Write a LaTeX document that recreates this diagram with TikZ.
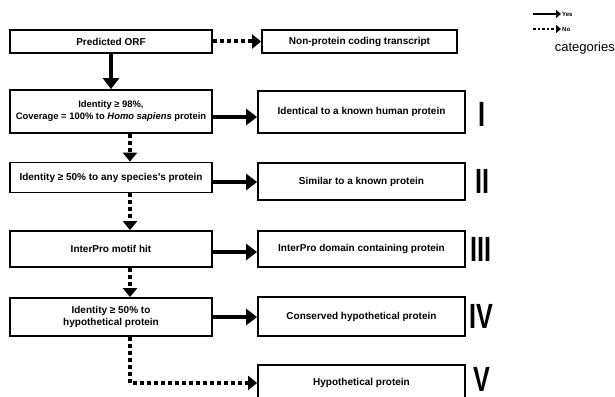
\documentclass[tikz,border=0pt]{standalone}
\usepackage{fontspec}
\setmainfont{Liberation Sans}
\usetikzlibrary{arrows.meta}
\begin{document}
\begin{tikzpicture}[x=1pt,y=-1pt,
  box/.style={draw, line width=1.8pt, font=\bfseries\fontsize{10}{12.5}\selectfont, align=center, inner sep=0pt},
  lbox/.style={box, minimum width=202pt},
  rbox/.style={box, minimum width=207pt},
  yes/.style={line width=4.5pt, -{Triangle[length=11pt,width=16pt]}},
  no/.style={line width=4pt, dash pattern=on 4pt off 3pt, -{Triangle[length=9pt,width=14pt]}},
  yesleg/.style={line width=2.2pt, -{Triangle[length=5pt,width=8pt]}},
  noleg/.style={line width=2.2pt, dash pattern=on 2.5pt off 2pt, -{Triangle[length=5pt,width=8pt]}},
  legtext/.style={font=\bfseries\fontsize{6}{7}\selectfont, inner sep=1pt, anchor=west},
  cat/.style={font=\bfseries\fontsize{35}{35}\selectfont, xscale=0.72, inner sep=0pt},
]
\useasboundingbox (0,0) rectangle (615,396);

% left column
\node[lbox, minimum height=23pt] (orf) at (111,41.5) {Predicted ORF};
\node[lbox, minimum height=43pt, font=\bfseries\fontsize{9.4}{12}\selectfont] (b2) at (111,111.5) {Identity ≥ 98\%,\\Coverage = 100\% to \textit{Homo sapiens} protein};
\node[lbox, minimum height=30pt] (b3) at (111,177.5) {Identity ≥ 50\% to any species's protein};
\node[lbox, minimum height=36pt] (b4) at (111,249) {InterPro motif hit};
\node[lbox, minimum height=38pt] (b5) at (111,317) {Identity ≥ 50\% to\\hypothetical protein};

% right column
\node[box, minimum width=195pt, minimum height=23pt] (npc) at (359.5,41.5) {Non-protein coding transcript};
\node[rbox, minimum height=42pt] (r1) at (361.5,112) {Identical to a known human protein};
\node[rbox, minimum height=37pt] (r2) at (361.5,181.5) {Similar to a known protein};
\node[rbox, minimum height=36pt] (r3) at (361.5,249) {InterPro domain containing protein};
\node[rbox, minimum height=39pt] (r4) at (361.5,316.5) {Conserved hypothetical protein};
\node[rbox, minimum height=36pt] (r5) at (361.5,383) {Hypothetical protein};

% categories
\node[cat] (c1) at (482,114) {I};
\node[cat] (c2) at (482,181) {II};
\node[cat] (c3) at (481,249) {III};
\node[cat] (c4) at (481,316) {IV};
\node[cat] (c5) at (482,379) {V};
\node[font=\fontsize{13}{13}\selectfont, inner sep=0pt, anchor=east] (cats) at (615,48) {categories};

% legend
\coordinate (ya) at (533,14);
\coordinate (yb) at (561,14);
\coordinate (na) at (533,29);
\coordinate (nb) at (561,29);
\draw[yesleg] (ya) -- (yb);
\draw[noleg] (na) -- (nb);
\node[legtext] (lyes) at (yb) {Yes};
\node[legtext] (lno) at (nb) {No};

% connectors
\coordinate (xd) at (130,0);
\draw[no] (orf.east) -- (npc.west);
\draw[yes] (orf.south) -- (b2.north);
\draw[yes] ([yshift=-5.5pt]b2.east) -- ([yshift=-5.5pt]b2.east -| r1.west);
\draw[no] (b2.south -| xd) -- (b3.north -| xd);
\draw[yes] ([yshift=-4.5pt]b3.east) -- ([yshift=-4.5pt]b3.east -| r2.west);
\draw[no] (b3.south -| xd) -- (b4.north -| xd);
\draw[yes] ([yshift=-3pt]b4.east) -- ([yshift=-3pt]b4.east -| r3.west);
\draw[no] (b4.south -| xd) -- (b5.north -| xd);
\draw[yes] (b5.east) -- (b5.east -| r4.west);
\draw[no] (b5.south -| xd) |- (r5.west);
\end{tikzpicture}
\end{document}
